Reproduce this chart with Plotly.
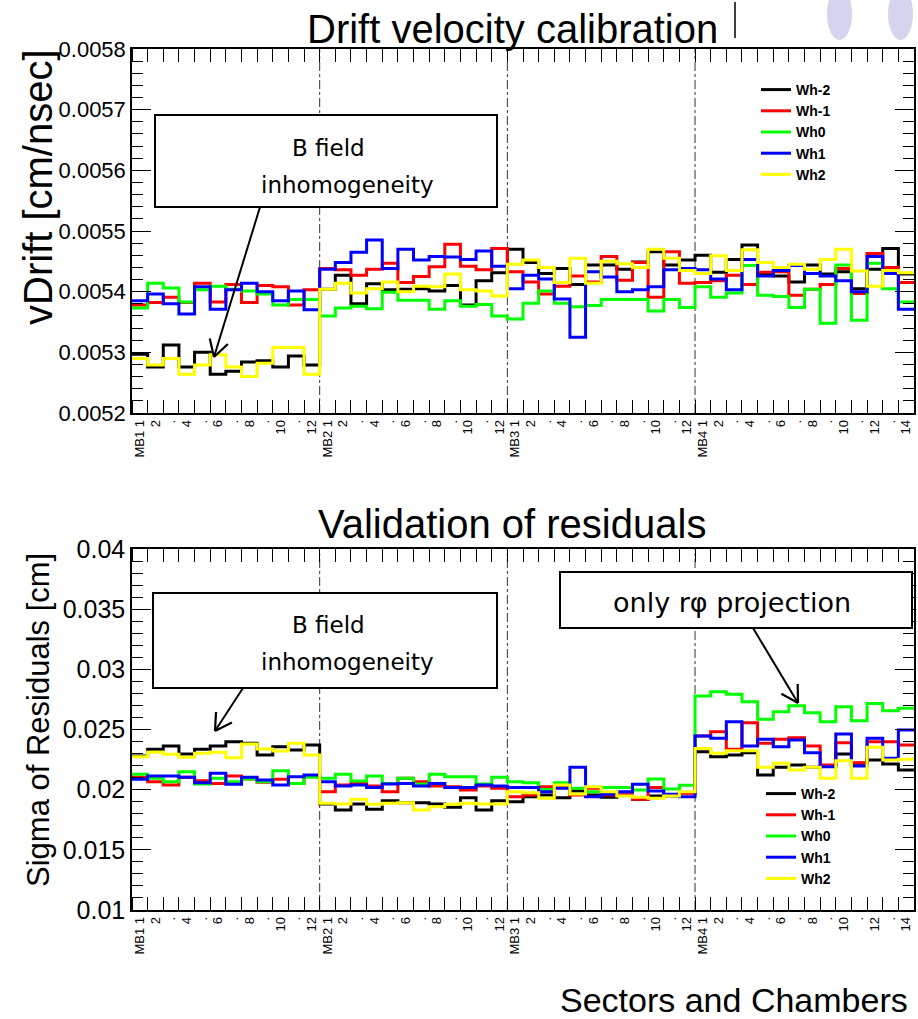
import math
import plotly.graph_objects as go

# ---------------- data ----------------
chambers = ["MB1", "MB2", "MB3", "MB4"]
sectors_per_chamber = [12, 12, 12, 14]
wheels = ["Wh-2", "Wh-1", "Wh0", "Wh1", "Wh2"]
colors = ["#000000", "#ff0000", "#00ff00", "#0000ff", "#ffff00"]

# vDrift [cm/nsec] per bin (MB1 s1..12, MB2 s1..12, MB3 s1..12, MB4 s1..14)
vdrift_wh_m2 = [0.005297, 0.005276, 0.005312, 0.005276, 0.0053, 0.005264, 0.005269, 0.005284, 0.005286, 0.005276, 0.005294, 0.005279,
                0.005404, 0.005427, 0.00538, 0.005413, 0.005403, 0.005404, 0.005405, 0.005401, 0.00541, 0.005378, 0.005418, 0.005431,
                0.00547, 0.005448, 0.00543, 0.005438, 0.005412, 0.005444, 0.005444, 0.005437, 0.005449, 0.005466, 0.005444, 0.005452,
                0.00546, 0.005432, 0.005453, 0.005477, 0.00543, 0.005426, 0.005416, 0.005444, 0.005429, 0.005433, 0.005405, 0.005437, 0.005471, 0.005429]
vdrift_wh_m1 = [0.005378, 0.005382, 0.005391, 0.005382, 0.005414, 0.005383, 0.005412, 0.005382, 0.00541, 0.005408, 0.005378, 0.005403,
                0.005438, 0.005436, 0.005427, 0.005437, 0.005447, 0.005415, 0.005425, 0.005441, 0.005478, 0.005442, 0.005436, 0.005471,
                0.005433, 0.005416, 0.005396, 0.005409, 0.005426, 0.005416, 0.005458, 0.005419, 0.005448, 0.005391, 0.005466, 0.005414,
                0.005415, 0.005418, 0.005427, 0.005412, 0.005432, 0.005433, 0.005394, 0.005404, 0.005412, 0.005438, 0.005397, 0.005463, 0.00544, 0.005415]
vdrift_wh_0 = [0.005373, 0.005414, 0.005406, 0.005383, 0.005403, 0.005409, 0.005404, 0.005401, 0.005396, 0.005378, 0.005387, 0.005387,
               0.00536, 0.005373, 0.005376, 0.005372, 0.005399, 0.005386, 0.005386, 0.005371, 0.005385, 0.005376, 0.005379, 0.00536,
               0.005355, 0.005381, 0.005401, 0.005381, 0.005375, 0.005377, 0.005387, 0.005387, 0.005387, 0.005368, 0.005387, 0.005374,
               0.005408, 0.005391, 0.005398, 0.005443, 0.005394, 0.005392, 0.005374, 0.005404, 0.005348, 0.005444, 0.005353, 0.005447, 0.005405, 0.005383]
vdrift_wh_p1 = [0.005385, 0.005396, 0.00538, 0.005363, 0.005408, 0.005371, 0.005403, 0.005414, 0.0054, 0.005385, 0.005401, 0.00537,
                0.005437, 0.005448, 0.005465, 0.005485, 0.005438, 0.00547, 0.005452, 0.005458, 0.005457, 0.005453, 0.005467, 0.005442,
                0.005405, 0.005427, 0.005421, 0.005388, 0.005325, 0.005433, 0.005424, 0.0054, 0.005403, 0.005408, 0.005436, 0.005438,
                0.005436, 0.005421, 0.005403, 0.005453, 0.005426, 0.005435, 0.005443, 0.00543, 0.005426, 0.005418, 0.0054, 0.005458, 0.00543, 0.005371]
vdrift_wh_p2 = [0.00529, 0.005279, 0.00529, 0.005264, 0.005279, 0.005296, 0.005276, 0.00526, 0.005282, 0.005308, 0.005308, 0.005264,
                0.005404, 0.005414, 0.005398, 0.005405, 0.005416, 0.0054, 0.005409, 0.005408, 0.005429, 0.005403, 0.005401, 0.005393,
                0.005445, 0.005452, 0.00544, 0.005415, 0.005455, 0.005414, 0.00545, 0.005446, 0.00544, 0.00547, 0.005455, 0.005435,
                0.00543, 0.005459, 0.005435, 0.005469, 0.005448, 0.00544, 0.005445, 0.005437, 0.005453, 0.00547, 0.005434, 0.005409, 0.005435, 0.005431]

# Sigma of residuals [cm]
sigma_wh_m2 = [0.0228, 0.02335, 0.02363, 0.02296, 0.02335, 0.02363, 0.02399, 0.02385, 0.02288, 0.02357, 0.0233, 0.02371,
               0.01881, 0.01831, 0.01881, 0.01837, 0.01908, 0.01892, 0.01892, 0.01881, 0.01853, 0.01933, 0.01831, 0.01908,
               0.019, 0.01941, 0.01955, 0.01933, 0.01989, 0.01955, 0.01936, 0.01955, 0.0192, 0.01947, 0.01947, 0.01975,
               0.02316, 0.02274, 0.02288, 0.02307, 0.02122, 0.02186, 0.02205, 0.02186, 0.02197, 0.02296, 0.02219, 0.02247, 0.02213, 0.02164]
sigma_wh_m1 = [0.02103, 0.02066, 0.02039, 0.02103, 0.02075, 0.02052, 0.02114, 0.02089, 0.02061, 0.02086, 0.02052, 0.02108,
               0.01983, 0.02039, 0.02052, 0.0203, 0.01983, 0.02094, 0.02066, 0.0203, 0.02025, 0.01997, 0.0203, 0.02011,
               0.01941, 0.01955, 0.02025, 0.0203, 0.01955, 0.02011, 0.01955, 0.01955, 0.0192, 0.02019, 0.01955, 0.0197,
               0.02446, 0.02482, 0.02335, 0.02557, 0.02385, 0.02418, 0.02432, 0.02363, 0.02205, 0.0239, 0.02224, 0.02399, 0.02399, 0.02371]
sigma_wh_0 = [0.02128, 0.02094, 0.02066, 0.02149, 0.02047, 0.02094, 0.02066, 0.02089, 0.02066, 0.02158, 0.02052, 0.02103,
              0.02094, 0.02128, 0.02072, 0.02114, 0.02052, 0.02094, 0.02047, 0.02128, 0.02108, 0.02108, 0.02047, 0.02103,
              0.02066, 0.02058, 0.02002, 0.02058, 0.02011, 0.01983, 0.02019, 0.02019, 0.01997, 0.02089, 0.02005, 0.02036,
              0.02778, 0.02814, 0.02792, 0.02731, 0.02585, 0.02648, 0.02698, 0.0264, 0.02565, 0.02689, 0.02573, 0.02717, 0.02656, 0.02676]
sigma_wh_p1 = [0.02086, 0.02114, 0.02114, 0.02103, 0.02058, 0.02136, 0.02044, 0.02103, 0.0208, 0.02039, 0.02108, 0.02122,
               0.02066, 0.0203, 0.02039, 0.02019, 0.02047, 0.02052, 0.0203, 0.02052, 0.02017, 0.02017, 0.02039, 0.0203,
               0.02019, 0.02019, 0.01983, 0.02011, 0.02186, 0.01941, 0.01961, 0.01983, 0.02044, 0.01989, 0.01961, 0.01941,
               0.02446, 0.02427, 0.02565, 0.02363, 0.02418, 0.02357, 0.02413, 0.02307, 0.02191, 0.02463, 0.02197, 0.02427, 0.02261, 0.02496]
sigma_wh_p2 = [0.02274, 0.0231, 0.02294, 0.02269, 0.02302, 0.0231, 0.02266, 0.0238, 0.02338, 0.02321, 0.02385, 0.02288,
               0.01887, 0.01881, 0.0192, 0.01878, 0.01887, 0.01892, 0.01831, 0.01859, 0.01878, 0.01887, 0.01881, 0.01881,
               0.01983, 0.01975, 0.01928, 0.02039, 0.01964, 0.02025, 0.01983, 0.01947, 0.01936, 0.01928, 0.01947, 0.01983,
               0.02343, 0.02302, 0.02324, 0.02324, 0.02186, 0.02219, 0.02164, 0.02186, 0.02094, 0.02241, 0.02094, 0.02352, 0.02247, 0.02252]

vdrift = [vdrift_wh_m2, vdrift_wh_m1, vdrift_wh_0, vdrift_wh_p1, vdrift_wh_p2]
sigma = [sigma_wh_m2, sigma_wh_m1, sigma_wh_0, sigma_wh_p1, sigma_wh_p2]

# bin labels
tick_text = []
for ch, n in zip(chambers, sectors_per_chamber):
    for s in range(1, n + 1):
        if s == 1:
            tick_text.append(ch + " 1")
        elif s % 2 == 0:
            tick_text.append(str(s))
        else:
            tick_text.append(".")
nbins = len(tick_text)
edges = list(range(nbins + 1))
centers = [i + 0.5 for i in range(nbins)]
boundaries = []
acc = 0
for n in sectors_per_chamber[:-1]:
    acc += n
    boundaries.append(acc)

# ---------------- figure ----------------
W, H = 918, 1019
ML, MR, MT = 132, 4, 49
PLOT_BOTTOM = 910
MB = H - PLOT_BOTTOM
PW = W - ML - MR
PH = H - MT - MB


def px(xp):  # picture x -> paper x
    return (xp - ML) / PW


def py(yp):  # picture y -> paper y
    return (PLOT_BOTTOM - yp) / PH


fig = go.Figure()
for k in range(len(wheels)):
    fig.add_trace(go.Scatter(x=edges, y=vdrift[k] + [vdrift[k][-1]], mode="lines",
                             line=dict(color=colors[k], width=3, shape="hv"),
                             name="<b>" + wheels[k] + "</b>", legend="legend",
                             xaxis="x", yaxis="y"))
for k in range(len(wheels)):
    fig.add_trace(go.Scatter(x=edges, y=sigma[k] + [sigma[k][-1]], mode="lines",
                             line=dict(color=colors[k], width=3, shape="hv"),
                             name="<b>" + wheels[k] + "</b>", legend="legend2",
                             xaxis="x2", yaxis="y2"))

xcommon = dict(range=[0, nbins], tickmode="array", tickvals=centers, ticktext=tick_text,
               tickangle=-90, ticks="", showgrid=False, zeroline=False,
               showline=True, linecolor="black", linewidth=1.5, mirror="ticks",
               tickfont=dict(family="Liberation Sans, Arial", size=13, color="black"),
               minor=dict(ticks="inside", ticklen=13, tick0=0, dtick=1, tickcolor="black",
                          tickwidth=1, showgrid=False))
ycommon = dict(ticks="inside", ticklen=19, tickcolor="black", tickwidth=1,
               showgrid=False, zeroline=False, showline=True, linecolor="black",
               linewidth=1.5, mirror="ticks")
yminor = dict(ticks="inside", ticklen=11, tickcolor="black", tickwidth=1, showgrid=False)

top_dom = [py(413), py(49)]
bot_dom = [py(910), py(549)]

fig.update_layout(
    width=W, height=H,
    margin=dict(l=ML, r=MR, t=MT, b=MB, autoexpand=False),
    paper_bgcolor="white", plot_bgcolor="white",
    font=dict(family="Liberation Sans, Arial", color="black"),
    xaxis=dict(domain=[0, 1], anchor="y", **xcommon),
    xaxis2=dict(domain=[0, 1], anchor="y2", **xcommon),
    yaxis=dict(domain=top_dom, anchor="x", range=[0.0052, 0.0058], dtick=0.0001,
               tickformat=".4f", tickfont=dict(size=22, color="black"),
               minor=dict(yminor, dtick=0.00002), **ycommon),
    yaxis2=dict(domain=bot_dom, anchor="x2", range=[0.01, 0.04], dtick=0.005,
                tickformat=".3~f", tickfont=dict(size=25, color="black"),
                minor=dict(yminor, dtick=0.001), **ycommon),
    legend=dict(x=px(756), xanchor="left", y=py(74), yanchor="top",
                bgcolor="rgba(0,0,0,0)", borderwidth=0, itemwidth=30, tracegroupgap=0,
                font=dict(size=14, color="black")),
    legend2=dict(x=px(761), xanchor="left", y=py(778), yanchor="top",
                 bgcolor="rgba(0,0,0,0)", borderwidth=0, itemwidth=30, tracegroupgap=0,
                 font=dict(size=14, color="black")),
    showlegend=True,
)

shapes = []
# chamber boundaries (dash-dot)
for b in boundaries:
    for xr, yr in (("x", "y domain"), ("x2", "y2 domain")):
        shapes.append(dict(type="line", xref=xr, yref=yr, x0=b, x1=b, y0=0, y1=1,
                           line=dict(color="#333333", width=1, dash="dashdot"), layer="below"))

# slide decorations at the top
shapes.append(dict(type="line", xref="paper", yref="paper", x0=px(735), x1=px(735),
                   y0=py(38), y1=py(2), line=dict(color="black", width=1.5)))
for cx0, cx1 in ((827, 852), (888, 913)):
    shapes.append(dict(type="circle", xref="paper", yref="paper",
                       x0=px(cx0), x1=px(cx1), y0=py(40), y1=py(-12),
                       fillcolor="#d4d4ee", line=dict(width=0), layer="below"))

# annotation boxes
for (x0, y0, x1, y1) in ((155, 115, 497, 207), (153, 593, 497, 688), (560, 572, 912, 628)):
    shapes.append(dict(type="rect", xref="paper", yref="paper",
                       x0=px(x0), x1=px(x1), y0=py(y1), y1=py(y0),
                       fillcolor="white", line=dict(color="black", width=2), layer="above"))

# arrows (shaft + open V head), given in picture pixels tail -> tip
ARM, ANG = 19, math.radians(30)
for (tx, ty, hx, hy) in ((260, 207, 214, 357), (243, 688, 215, 731), (753, 628, 798, 703)):
    shapes.append(dict(type="line", xref="paper", yref="paper",
                       x0=px(tx), y0=py(ty), x1=px(hx), y1=py(hy),
                       line=dict(color="black", width=2), layer="above"))
    ang = math.atan2(ty - hy, tx - hx)
    for s in (-1, 1):
        ex = hx + ARM * math.cos(ang + s * ANG)
        ey = hy + ARM * math.sin(ang + s * ANG)
        shapes.append(dict(type="line", xref="paper", yref="paper",
                           x0=px(hx), y0=py(hy), x1=px(ex), y1=py(ey),
                           line=dict(color="black", width=2.2), layer="above"))
fig.update_layout(shapes=shapes)

ann = []
# titles
ann.append(dict(text="Drift velocity calibration", xref="paper", yref="paper",
                x=px(512), y=py(29), xanchor="center", yanchor="middle", showarrow=False,
                font=dict(size=40, color="black")))
ann.append(dict(text="Validation of residuals", xref="paper", yref="paper",
                x=px(512), y=py(524), xanchor="center", yanchor="middle", showarrow=False,
                font=dict(size=40, color="black")))
ann.append(dict(text="Sectors and Chambers", xref="paper", yref="paper",
                x=px(910), y=py(1000), xanchor="right", yanchor="middle", showarrow=False,
                font=dict(size=34, color="black")))
ann.append(dict(text="vDrift [cm/nsec]", xref="paper", yref="paper", textangle=-90,
                x=px(38), y=py(187), xanchor="center", yanchor="middle", showarrow=False,
                font=dict(size=40, color="black")))
ann.append(dict(text="Sigma of Residuals [cm]", xref="paper", yref="paper", textangle=-90,
                x=px(38), y=py(720), xanchor="center", yanchor="middle", showarrow=False,
                font=dict(size=31, color="black")))

boxfont = dict(family="DejaVu Sans, Verdana", size=23, color="black")
for txt, cx, cy in (("B field", 328, 148), ("inhomogeneity", 347, 185),
                    ("B field", 328, 625), ("inhomogeneity", 347, 662)):
    ann.append(dict(text=txt, xref="paper", yref="paper", x=px(cx), y=py(cy),
                    xanchor="center", yanchor="middle", showarrow=False, font=boxfont))
ann.append(dict(text="only r\u03c6 projection", xref="paper", yref="paper", x=px(732), y=py(602),
                xanchor="center", yanchor="middle", showarrow=False,
                font=dict(boxfont, size=27)))
fig.update_layout(annotations=ann)

# the figure occupies the whole window: drop the page's default body margin
fig.write_html("out.html", config={"displayModeBar": False},
               post_script="document.body.style.margin='0';document.body.style.overflow='hidden';")
